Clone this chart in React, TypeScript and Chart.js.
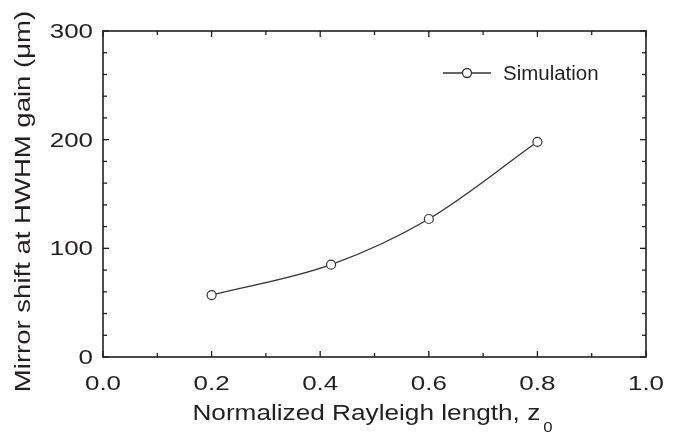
import React, { useEffect, useRef } from "react";
import { Chart, registerables } from "chart.js";

Chart.register(...registerables);

const xValues = [0.2, 0.42, 0.6, 0.8];
const yValues = [57, 85, 127, 198];
const seriesLabel = "Simulation";
const xMajorTicks = [0, 0.2, 0.4, 0.6, 0.8, 1.0];
const xMinorTicks = [0.1, 0.3, 0.5, 0.7, 0.9];
const yMajorTicks = [0, 100, 200, 300];
const yMinorTicks = [20, 40, 60, 80, 120, 140, 160, 180, 220, 240, 260, 280];
const xTitleMain = "Normalized Rayleigh length, z";
const xTitleSub = "0";
const yTitle = "Mirror shift at HWHM gain (\u03bcm)";

const FONT = '"Liberation Sans", Arial, Helvetica, sans-serif';
const INK = "#231f20";

function drawStretched(
  ctx: CanvasRenderingContext2D,
  text: string,
  x: number,
  y: number,
  size: number,
  sx: number,
  align: CanvasTextAlign
) {
  ctx.save();
  ctx.font = `${size}px ${FONT}`;
  ctx.textAlign = align;
  ctx.textBaseline = "alphabetic";
  ctx.translate(x, y);
  ctx.scale(sx, 1);
  ctx.fillText(text, 0, 0);
  ctx.restore();
}

const framePlugin = {
  id: "framePlugin",
  afterDraw(chart: any) {
    const ctx = chart.ctx as CanvasRenderingContext2D;
    const { left, right, top, bottom } = chart.chartArea;
    const xs = chart.scales.x;
    const ys = chart.scales.y;
    ctx.save();
    ctx.strokeStyle = INK;
    ctx.lineWidth = 1.6;
    ctx.strokeRect(left, top, right - left, bottom - top);
    ctx.lineWidth = 1.3;
    const seg = (x1: number, y1: number, x2: number, y2: number) => {
      ctx.beginPath();
      ctx.moveTo(x1, y1);
      ctx.lineTo(x2, y2);
      ctx.stroke();
    };
    const xTick = (v: number, len: number) => {
      const px = xs.getPixelForValue(v);
      seg(px, bottom, px, bottom - len);
      seg(px, top, px, top + len);
    };
    const yTick = (v: number, len: number) => {
      const py = ys.getPixelForValue(v);
      seg(left, py, left + len, py);
      seg(right, py, right - len, py);
    };
    xMajorTicks.forEach((v) => xTick(v, 6));
    xMinorTicks.forEach((v) => xTick(v, 4));
    yMajorTicks.forEach((v) => yTick(v, 6));
    yMinorTicks.forEach((v) => yTick(v, 4));

    ctx.fillStyle = INK;
    // tick labels from the library's tick objects
    xs.ticks.forEach((t: any) => {
      const px = xs.getPixelForValue(t.value);
      drawStretched(ctx, String(t.label), px, bottom + 33, 19.5, 1.33, "center");
    });
    ys.ticks.forEach((t: any) => {
      const py = ys.getPixelForValue(t.value);
      drawStretched(ctx, String(t.label), left - 10, py + 7, 19.5, 1.33, "right");
    });

    // x title
    ctx.font = `22px ${FONT}`;
    const sxT = 1.19;
    const wMain = ctx.measureText(xTitleMain).width * sxT;
    ctx.font = `14px ${FONT}`;
    const wSub = ctx.measureText(xTitleSub).width * 1.2;
    const cx = (left + right) / 2 - 2;
    const startX = cx - (wMain + 3 + wSub) / 2;
    drawStretched(ctx, xTitleMain, startX, 420, 22, sxT, "left");
    drawStretched(ctx, xTitleSub, startX + wMain + 3, 432, 14, 1.2, "left");

    // y title
    ctx.save();
    ctx.translate(30, (top + bottom) / 2 + 7.5);
    ctx.rotate(-Math.PI / 2);
    drawStretched(ctx, yTitle, 0, 0, 21.5, 1.28, "center");
    ctx.restore();

    // legend
    ctx.strokeStyle = "#333";
    ctx.lineWidth = 1.3;
    seg(443, 73, 491, 73);
    ctx.beginPath();
    ctx.arc(467, 73, 4.5, 0, Math.PI * 2);
    ctx.fillStyle = "#fff";
    ctx.fill();
    ctx.stroke();
    ctx.fillStyle = INK;
    drawStretched(ctx, seriesLabel, 503, 79.5, 19.5, 1.05, "left");
    ctx.restore();
  },
};

export default function App() {
  const ref = useRef<HTMLCanvasElement>(null);
  useEffect(() => {
    if (!ref.current) return;
    const chart = new Chart(ref.current, {
      type: "line",
      data: {
        datasets: [
          {
            label: seriesLabel,
            data: xValues.map((x, i) => ({ x, y: yValues[i] })),
            borderColor: "#333",
            borderWidth: 1.3,
            pointRadius: 4.5,
            pointBackgroundColor: "#fff",
            pointBorderColor: "#333",
            pointBorderWidth: 1.2,
            cubicInterpolationMode: "monotone",
            fill: false,
          },
        ],
      },
      options: {
        responsive: false,
        animation: false,
        devicePixelRatio: 1,
        layout: { padding: { top: 31, right: 32, left: 0, bottom: 0 } },
        plugins: { legend: { display: false }, tooltip: { enabled: false } },
        scales: {
          x: {
            type: "linear",
            min: 0,
            max: 1,
            afterBuildTicks: (s: any) => {
              s.ticks = xMajorTicks.map((v) => ({ value: v }));
            },
            ticks: {
              display: false,
              callback: (v: any) => Number(v).toFixed(1),
              autoSkip: false,
            },
            grid: { display: false, drawTicks: false },
            border: { display: false },
            afterFit: (s: any) => {
              s.height = 76;
            },
          },
          y: {
            type: "linear",
            min: 0,
            max: 300,
            afterBuildTicks: (s: any) => {
              s.ticks = yMajorTicks.map((v) => ({ value: v }));
            },
            ticks: {
              display: false,
              callback: (v: any) => String(v),
              autoSkip: false,
            },
            grid: { display: false, drawTicks: false },
            border: { display: false },
            afterFit: (s: any) => {
              s.width = 103;
            },
          },
        },
      },
      plugins: [framePlugin],
    } as any);
    return () => chart.destroy();
  }, []);
  return (
    <div style={{ position: "fixed", left: 0, top: 0, width: 678, height: 433, background: "#fff" }}>
      <canvas ref={ref} width={678} height={433} />
    </div>
  );
}
